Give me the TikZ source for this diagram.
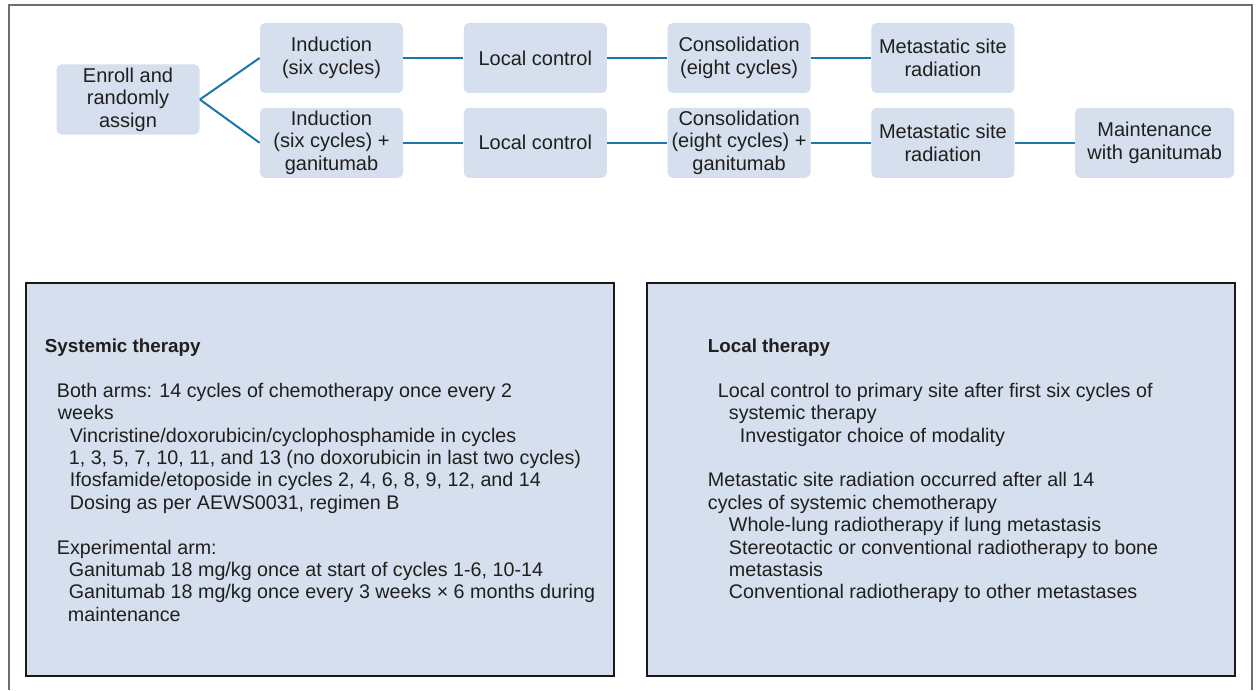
\documentclass[tikz,border=0pt]{standalone}
\usepackage{fontspec}
\setmainfont{Liberation Sans}
\usepackage{tikz}
\usetikzlibrary{positioning, calc}
\definecolor{boxfill}{HTML}{D5DFED}
\definecolor{linkblue}{HTML}{1A77AA}
\definecolor{framegray}{HTML}{6E6E6E}
\newcommand{\headfont}{\bfseries\fontsize{9.4}{11.15}\selectfont}

\begin{document}
\begin{tikzpicture}[
  x=0.5pt, y=-0.5pt,
  node distance=7pt and 30pt,
  stage/.style={fill=boxfill, rounded corners=2.5pt, minimum width=71.5pt, minimum height=35pt, inner sep=1pt, align=center, text=black!88, font=\fontsize{10}{11.3}\selectfont},
  panel/.style={draw=black!90, line width=1pt, fill=boxfill, minimum width=294pt, minimum height=196.5pt, inner sep=0pt},
  notes/.style={anchor=north west, align=left, inner sep=0pt, text=black!88, font=\fontsize{9.85}{11.2}\selectfont},
  link/.style={draw=linkblue, line width=1pt},
  frame/.style={draw=framegray, line width=1pt},
]
\useasboundingbox (0,0) rectangle (1256,690);

\draw[frame] (9,690) |- (1252,5) -- (1252,690);

\node[stage] (enroll) at (128,99.5) {Enroll and\\randomly\\assign};
\node[stage] (ind1) at (331.5,58) {Induction\\(six cycles)};
\node[stage, right=of ind1] (loc1) {Local control};
\node[stage, right=of loc1] (cons1) {Consolidation\\(eight cycles)};
\node[stage, right=of cons1] (met1) {Metastatic site\\radiation};

\node[stage, below=of ind1] (ind2) {Induction\\(six cycles) +\\ganitumab};
\node[stage, right=of ind2] (loc2) {Local control};
\node[stage, right=of loc2] (cons2) {Consolidation\\(eight cycles) +\\ganitumab};
\node[stage, right=of cons2] (met2) {Metastatic site\\radiation};
\node[stage, right=of met2, minimum width=79.5pt] (maint) {Maintenance\\with ganitumab};

\draw[link] (enroll.east) -- (ind1.west);
\draw[link] (enroll.east) -- (ind2.west);
\draw[link] (ind1) -- (loc1);
\draw[link] (loc1) -- (cons1);
\draw[link] (cons1) -- (met1);
\draw[link] (ind2) -- (loc2);
\draw[link] (loc2) -- (cons2);
\draw[link] (cons2) -- (met2);
\draw[link] (met2) -- (maint);

% treatment details
\node[panel] (sys) at (319.5,479.5) {};
\node[panel, right=15.5pt of sys] (loc) {};

\node[notes] (systxt) at ($(sys.north west)+(20,56.5)$) {%
  {\headfont Systemic therapy}\\[11.2pt]
  \hspace*{6pt}Both arms: 14 cycles of chemotherapy once every 2\\
  \hspace*{6.5pt}weeks\\
  \hspace*{12.5pt}Vincristine/doxorubicin/cyclophosphamide in cycles\\
  \hspace*{12pt}1, 3, 5, 7, 10, 11, and 13 (no doxorubicin in last two cycles)\\
  \hspace*{12.5pt}Ifosfamide/etoposide in cycles 2, 4, 6, 8, 9, 12, and 14\\
  \hspace*{12.5pt}Dosing as per AEWS0031, regimen B\\[11.2pt]
  \hspace*{6pt}Experimental arm:\\
  \hspace*{12pt}Ganitumab 18 mg/kg once at start of cycles 1-6, 10-14\\
  \hspace*{12pt}Ganitumab 18 mg/kg once every 3 weeks × 6 months during\\
  \hspace*{11.5pt}maintenance};

\node[notes] (loctxt) at ($(loc.north west)+(62,56.5)$) {%
  {\headfont Local therapy}\\[11.2pt]
  \hspace*{5pt}Local control to primary site after first six cycles of\\
  \hspace*{10.5pt}systemic therapy\\
  \hspace*{16pt}Investigator choice of modality\\[11.2pt]
  Metastatic site radiation occurred after all 14\\
  cycles of systemic chemotherapy\\
  \hspace*{10.5pt}Whole-lung radiotherapy if lung metastasis\\
  \hspace*{10.5pt}Stereotactic or conventional radiotherapy to bone\\
  \hspace*{10.5pt}metastasis\\
  \hspace*{10.5pt}Conventional radiotherapy to other metastases};

\end{tikzpicture}
\end{document}
